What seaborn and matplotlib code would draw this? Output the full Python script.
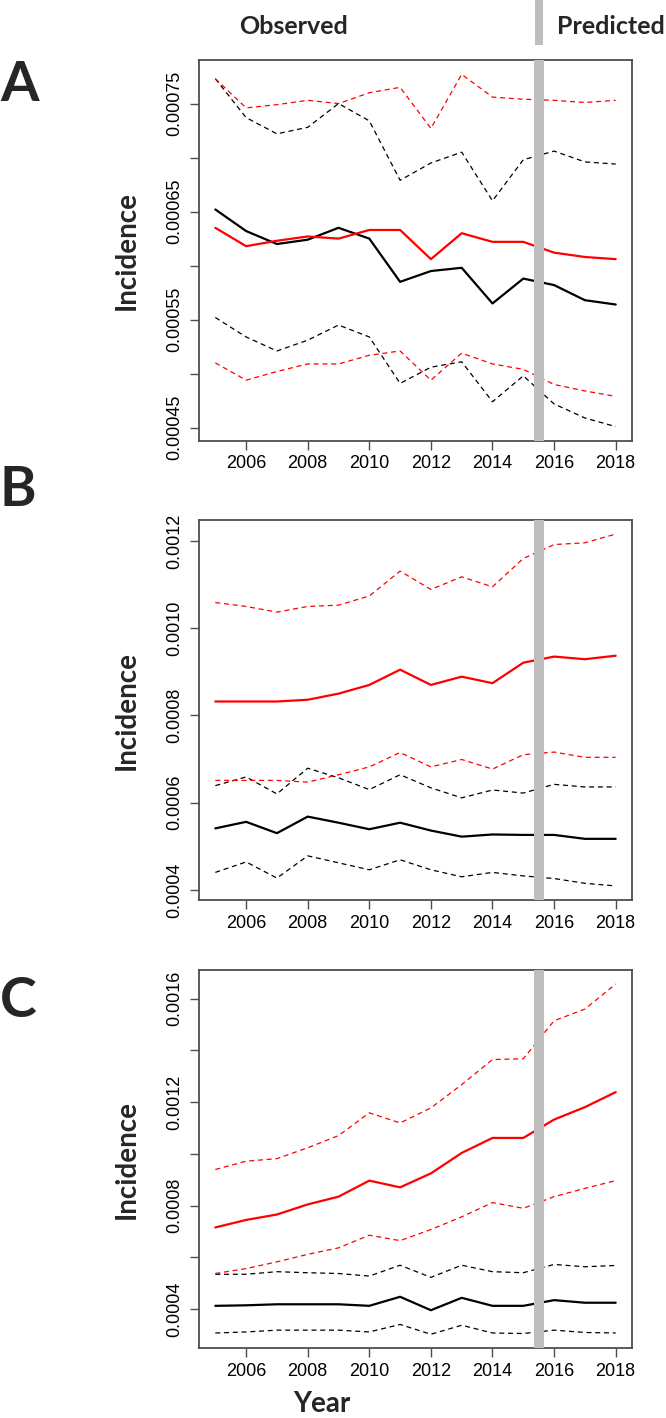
import pandas as pd
import seaborn as sns
import matplotlib.pyplot as plt
from matplotlib.patches import Rectangle

# ---- data ----
years = list(range(2005, 2019))

# Panel A
a_black = [0.000652, 0.000632, 0.000620, 0.000624, 0.000635, 0.000625, 0.000585,
           0.000595, 0.000598, 0.000565, 0.000588, 0.000582, 0.000568, 0.000564]
a_black_lo = [0.000552, 0.000534, 0.000521, 0.000531, 0.000545, 0.000534, 0.000491,
              0.000506, 0.000511, 0.000474, 0.000498, 0.000472, 0.000459, 0.000451]
a_black_hi = [0.000773, 0.000737, 0.000722, 0.000728, 0.000750, 0.000734, 0.000679,
              0.000695, 0.000705, 0.000660, 0.000698, 0.000706, 0.000696, 0.000694]
a_red = [0.000635, 0.000618, 0.000623, 0.000627, 0.000625, 0.000633, 0.000633,
         0.000606, 0.000630, 0.000622, 0.000622, 0.000612, 0.000608, 0.000606]
a_red_lo = [0.000510, 0.000494, 0.000502, 0.000509, 0.000509, 0.000517, 0.000521,
            0.000494, 0.000519, 0.000509, 0.000504, 0.000490, 0.000484, 0.000479]
a_red_hi = [0.000773, 0.000746, 0.000749, 0.000753, 0.000750, 0.000760, 0.000765,
            0.000727, 0.000777, 0.000756, 0.000754, 0.000753, 0.000751, 0.000753]

# Panel B
b_black = [0.000541, 0.000556, 0.000530, 0.000568, 0.000554, 0.000539, 0.000554,
           0.000536, 0.000522, 0.000527, 0.000526, 0.000526, 0.000517, 0.000517]
b_black_lo = [0.000440, 0.000464, 0.000427, 0.000478, 0.000462, 0.000446, 0.000469,
              0.000446, 0.000430, 0.000440, 0.000432, 0.000426, 0.000415, 0.000409]
b_black_hi = [0.000639, 0.000659, 0.000620, 0.000679, 0.000657, 0.000630, 0.000664,
              0.000634, 0.000611, 0.000629, 0.000622, 0.000642, 0.000636, 0.000636]
b_red = [0.000832, 0.000832, 0.000832, 0.000836, 0.000850, 0.000870, 0.000905,
         0.000870, 0.000889, 0.000874, 0.000921, 0.000935, 0.000929, 0.000937]
b_red_lo = [0.000651, 0.000651, 0.000651, 0.000647, 0.000664, 0.000682, 0.000715,
            0.000682, 0.000699, 0.000677, 0.000710, 0.000716, 0.000704, 0.000704]
b_red_hi = [0.001059, 0.001050, 0.001037, 0.001050, 0.001053, 0.001074, 0.001131,
            0.001089, 0.001118, 0.001095, 0.001160, 0.001192, 0.001196, 0.001216]

# Panel C
c_black = [0.000413, 0.000415, 0.000419, 0.000419, 0.000419, 0.000413, 0.000448,
           0.000396, 0.000444, 0.000413, 0.000413, 0.000435, 0.000425, 0.000425]
c_black_lo = [0.000308, 0.000312, 0.000319, 0.000319, 0.000319, 0.000312, 0.000341,
              0.000303, 0.000338, 0.000308, 0.000306, 0.000319, 0.000310, 0.000308]
c_black_hi = [0.000535, 0.000535, 0.000545, 0.000541, 0.000538, 0.000528, 0.000570,
              0.000523, 0.000570, 0.000545, 0.000541, 0.000573, 0.000564, 0.000569]
c_red = [0.000716, 0.000745, 0.000766, 0.000805, 0.000835, 0.000897, 0.000871,
         0.000925, 0.001004, 0.001062, 0.001062, 0.001133, 0.001181, 0.001239]
c_red_lo = [0.000538, 0.000557, 0.000583, 0.000612, 0.000637, 0.000686, 0.000665,
            0.000708, 0.000757, 0.000812, 0.000790, 0.000835, 0.000867, 0.000897]
c_red_hi = [0.000940, 0.000972, 0.000982, 0.001024, 0.001071, 0.001159, 0.001120,
            0.001178, 0.001268, 0.001365, 0.001368, 0.001515, 0.001560, 0.001657]

panel_letters = ['A', 'B', 'C']
ytick_steps = [0.00005, 0.0002, 0.0002]
ylabel_start = [0.00045, 0.0004, 0.0004]
ylabel_every = [0.0001, 0.0002, 0.0004]
ylabel_fmt = ['{:.5f}', '{:.4f}', '{:.4f}']
xtick_years = [2006, 2008, 2010, 2012, 2014, 2016, 2018]
split_year = (2015.35, 2015.67)

W, H = 666, 1418


def long_table(black, black_lo, black_hi, red, red_lo, red_hi):
    parts = []
    for grp, kind, vals in [('black', 'mean', black), ('black', 'lo', black_lo),
                            ('black', 'hi', black_hi), ('red', 'mean', red),
                            ('red', 'lo', red_lo), ('red', 'hi', red_hi)]:
        parts.append(pd.DataFrame({'Year': years, 'Incidence': vals,
                                   'group': grp, 'kind': kind}))
    return pd.concat(parts, ignore_index=True)


panels = [
    long_table(a_black, a_black_lo, a_black_hi, a_red, a_red_lo, a_red_hi),
    long_table(b_black, b_black_lo, b_black_hi, b_red, b_red_lo, b_red_hi),
    long_table(c_black, c_black_lo, c_black_hi, c_red, c_red_lo, c_red_hi),
]

sns.set_style('ticks')
plt.rcParams['font.family'] = ['Liberation Sans', 'DejaVu Sans']
bold_font = ['Lato', 'DejaVu Sans']
frame_col = '#4d4d4d'

fig = plt.figure(figsize=(W / 100, H / 100), dpi=100)

# axes boxes in pixels: (left, top, right, bottom)
boxes = [(199.3, 60.3, 631.7, 440.7), (199.3, 520, 631.7, 900), (199.3, 970, 631.7, 1348.3)]
letter_y = [85, 490, 1001]

for i, df in enumerate(panels):
    l, t, r, b = boxes[i]
    ax = fig.add_axes([l / W, 1 - b / H, (r - l) / W, (b - t) / H])

    sns.lineplot(data=df, x='Year', y='Incidence', hue='group', style='kind',
                 size='kind', estimator=None, errorbar=None,
                 palette={'black': 'black', 'red': '#ff0000'},
                 dashes={'mean': '', 'lo': (4, 3), 'hi': (4, 3)},
                 sizes={'mean': 1.6, 'lo': 0.9, 'hi': 0.9},
                 legend=False, ax=ax)

    # R-like 4% padding
    lo, hi = df['Incidence'].min(), df['Incidence'].max()
    pad = 0.04 * (hi - lo)
    ax.set_ylim(lo - pad, hi + pad)
    ax.set_xlim(2005 - 0.52, 2018 + 0.52)

    ax.axvspan(*split_year, color='#bebebe', lw=0, zorder=5)

    step = ytick_steps[i]
    k0 = int(round((lo - pad) / step + 0.4999))
    k1 = int((hi + pad) / step)
    yt = [k * step for k in range(k0, k1 + 1)]
    labs = []
    for v in yt:
        q = (v - ylabel_start[i]) / ylabel_every[i]
        labs.append(ylabel_fmt[i].format(v) if abs(q - round(q)) < 1e-6 else '')
    ax.set_yticks(yt)
    ax.set_yticklabels(labs, rotation=90, va='center', ha='right')
    ax.set_xticks(xtick_years)
    ax.set_xticklabels([str(y) for y in xtick_years])
    ax.tick_params(axis='both', direction='out', length=6.5, width=1.0,
                   color=frame_col, labelsize=13, labelcolor='black')
    ax.tick_params(axis='y', pad=5)
    ax.tick_params(axis='x', pad=4)
    for sp in ax.spines.values():
        sp.set_visible(True)
        sp.set_color(frame_col)
        sp.set_linewidth(1.3)
    ax.set_xlabel('')
    ax.set_ylabel('')

    # panel letter and y label
    fig.text(0 / W, 1 - letter_y[i] / H, panel_letters[i], ha='left', va='center',
             fontsize=40, fontweight='bold', family=bold_font)
    fig.text(127 / W, 1 - (t + b) / 2 / H, 'Incidence', rotation=90, ha='center',
             va='center', fontsize=20, fontweight='bold', family=bold_font)

    if i == 0:
        # header band above panel A, same x as the split band
        x0 = l + (split_year[0] - 2004.48) / 14.04 * (r - l)
        x1 = l + (split_year[1] - 2004.48) / 14.04 * (r - l)
        fig.patches.append(Rectangle(((x0 + 1) / W, 1 - 45 / H), (x1 - x0 - 2) / W, 45 / H,
                                     transform=fig.transFigure, color='#bebebe', lw=0))

fig.text(293.5 / W, 1 - 34 / H, 'Observed', ha='center', va='baseline',
         fontsize=18, fontweight='bold', family=bold_font)
fig.text(557 / W, 1 - 34 / H, 'Predicted', ha='left', va='baseline',
         fontsize=18, fontweight='bold', family=bold_font)
fig.text(322 / W, 1 - 1404 / H, 'Year', ha='center', va='center',
         fontsize=20, fontweight='bold', family=bold_font)

fig.savefig('out.png', dpi=100)
